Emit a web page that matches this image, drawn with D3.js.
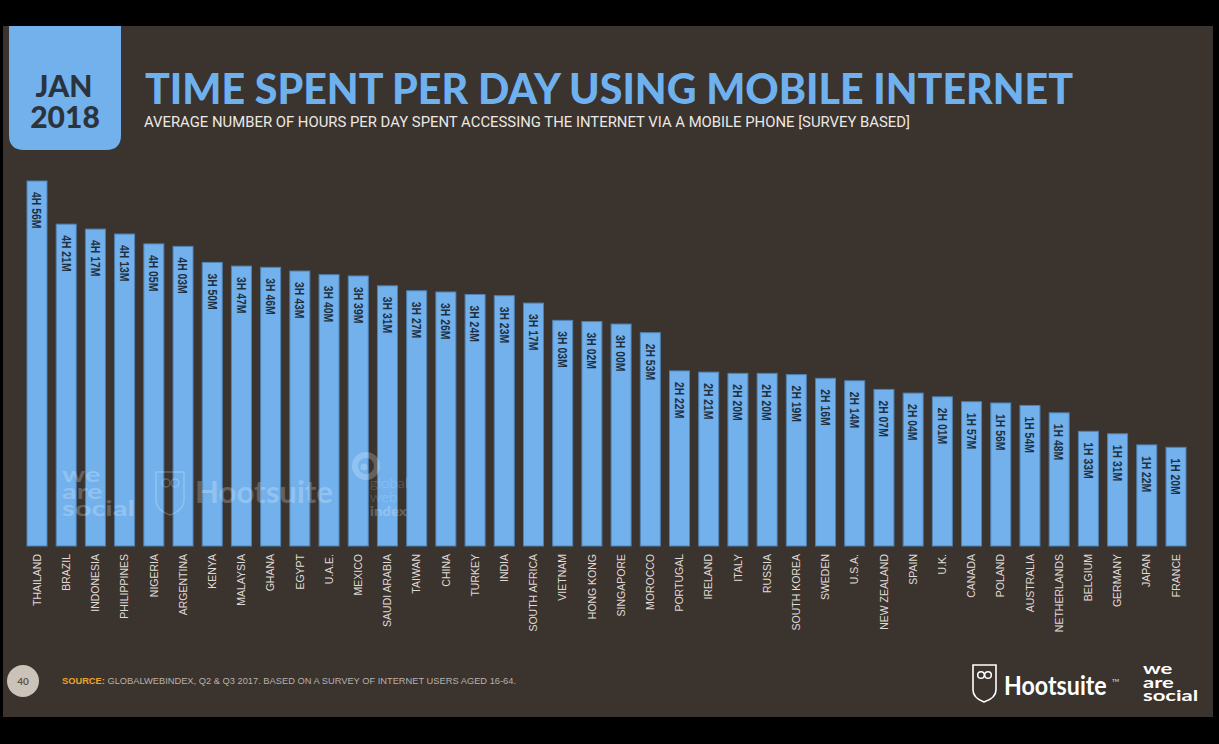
<!DOCTYPE html>
<html>
<head>
<meta charset="utf-8">
<script src="https://cdn.jsdelivr.net/npm/d3@7"></script>
<style>
  html, body { margin: 0; padding: 0; background: #000; }
  svg { display: block; }
</style>
</head>
<body>
<svg id="chart" width="1219" height="744"></svg>
<script>
// Countries, ordered as ranked in the survey
const countries = [
  "THAILAND", "BRAZIL", "INDONESIA", "PHILIPPINES", "NIGERIA", "ARGENTINA",
  "KENYA", "MALAYSIA", "GHANA", "EGYPT", "U.A.E.", "MEXICO", "SAUDI ARABIA",
  "TAIWAN", "CHINA", "TURKEY", "INDIA", "SOUTH AFRICA", "VIETNAM", "HONG KONG",
  "SINGAPORE", "MOROCCO", "PORTUGAL", "IRELAND", "ITALY", "RUSSIA",
  "SOUTH KOREA", "SWEDEN", "U.S.A.", "NEW ZEALAND", "SPAIN", "U.K.", "CANADA",
  "POLAND", "AUSTRALIA", "NETHERLANDS", "BELGIUM", "GERMANY", "JAPAN", "FRANCE"
];

// Average daily mobile internet time, hours and minutes
const hours = [
  4, 4, 4, 4, 4, 4,
  3, 3, 3, 3, 3, 3, 3,
  3, 3, 3, 3, 3, 3, 3,
  3, 2, 2, 2, 2, 2,
  2, 2, 2, 2, 2, 2, 1,
  1, 1, 1, 1, 1, 1, 1
];
const minutes = [
  56, 21, 17, 13, 5, 3,
  50, 47, 46, 43, 40, 39, 31,
  27, 26, 24, 23, 17, 3, 2,
  0, 53, 22, 21, 20, 20,
  19, 16, 14, 7, 4, 1, 57,
  56, 54, 48, 33, 31, 22, 20
];

const titleText = "TIME SPENT PER DAY USING MOBILE INTERNET";
const subtitleText = "AVERAGE NUMBER OF HOURS PER DAY SPENT ACCESSING THE INTERNET VIA A MOBILE PHONE [SURVEY BASED]";
const sourceLabel = "SOURCE:";
const sourceText = " GLOBALWEBINDEX, Q2 & Q3 2017. BASED ON A SURVEY OF INTERNET USERS AGED 16-64.";
const pageNumber = "40";

const data = countries.map((c, i) => ({
  country: c,
  total: hours[i] * 60 + minutes[i],
  label: hours[i] + "H " + String(minutes[i]).padStart(2, "0") + "M"
}));

const svg = d3.select("#chart");

const BG = "#3a332e";
const BLUE = "#72b1ec";
const DARK = "#1f2f3d";

// slide panel
svg.append("rect").attr("x", 3).attr("y", 26).attr("width", 1210).attr("height", 691).attr("fill", BG);

// date tab with rounded bottom corners
const tx0 = 9, tx1 = 121, ty0 = 26, ty1 = 150, r = 15;
svg.append("path")
  .attr("d", `M${tx0},${ty0} H${tx1} V${ty1 - r} Q${tx1},${ty1} ${tx1 - r},${ty1} H${tx0 + r} Q${tx0},${ty1} ${tx0},${ty1 - r} Z`)
  .attr("fill", BLUE);
svg.append("text").attr("x", 64).attr("y", 97).attr("text-anchor", "middle")
  .attr("font-family", "Lato, 'Open Sans', sans-serif").attr("font-weight", 900)
  .attr("font-size", 30).attr("fill", "#2b333c").text("JAN");
svg.append("text").attr("x", 65).attr("y", 128).attr("text-anchor", "middle")
  .attr("font-family", "Lato, 'Open Sans', sans-serif").attr("font-weight", 900)
  .attr("font-size", 30).attr("fill", "#2b333c").text("2018");

// title and subtitle
svg.append("text").attr("x", 145).attr("y", 104)
  .attr("font-family", "Lato, 'Open Sans', sans-serif").attr("font-weight", 900)
  .attr("font-size", 42).attr("fill", "#6fb1ee")
  .attr("textLength", 928).attr("lengthAdjust", "spacingAndGlyphs")
  .text(titleText);
svg.append("text").attr("x", 144).attr("y", 127)
  .attr("font-family", "'Liberation Sans Narrow', 'Roboto', sans-serif")
  .attr("font-size", 15).attr("fill", "#ece8e4")
  .attr("textLength", 766).attr("lengthAdjust", "spacingAndGlyphs")
  .text(subtitleText);

// scales
const x = d3.scaleBand()
  .domain(countries)
  .range([27, 1186])
  .paddingInner(0.315)
  .paddingOuter(0);

const y = d3.scaleLinear()
  .domain([0, d3.max(data, d => d.total)])
  .range([546, 181]);

// bars
const bars = svg.append("g");
bars.selectAll("rect").data(data).join("rect")
  .attr("x", d => x(d.country))
  .attr("y", d => y(d.total))
  .attr("width", x.bandwidth())
  .attr("height", d => y(0) - y(d.total))
  .attr("fill", BLUE)
  .attr("stroke", "#4f82b3")
  .attr("stroke-width", 1);

// value labels inside bars, reading top to bottom, condensed horizontally
bars.selectAll("text.val").data(data).join("text")
  .attr("class", "val")
  .attr("transform", d => `translate(${x(d.country) + x.bandwidth() / 2},${y(d.total) + 11}) rotate(90) scale(0.8,1)`)
  .attr("dy", "0.36em")
  .attr("font-family", "'Liberation Sans', Arial, sans-serif")
  .attr("font-weight", 700)
  .attr("font-size", 13)
  .attr("fill", DARK)
  .text(d => d.label);

// category axis labels, reading bottom to top
const xAxis = d3.axisBottom(x).tickSize(0).tickPadding(0);
const axisG = svg.append("g").attr("transform", "translate(0,554)").call(xAxis);
axisG.select(".domain").remove();
axisG.selectAll("text")
  .attr("transform", "rotate(-90)")
  .attr("x", 0).attr("y", 0).attr("dy", "0.35em")
  .attr("text-anchor", "end")
  .attr("font-family", "'Liberation Sans', Arial, sans-serif")
  .attr("font-size", 10.5)
  .attr("fill", "#e0dbd6");

// stacked multi-line word mark as one text element, widened horizontally
function stackedWords(g, words, x0, y0, lineGap, size, sx, weights) {
  const t = g.append("text")
    .attr("transform", `translate(${x0},${y0}) scale(${sx},1)`)
    .attr("font-size", size);
  words.forEach((w, i) => {
    const s = t.append("tspan").attr("x", 0).attr("dy", i === 0 ? 0 : lineGap).text(w);
    if (weights) s.attr("font-weight", weights[i]);
  });
  return t;
}

// faint brand watermarks over the bars
const wm = svg.append("g").attr("fill", "#ffffff").attr("opacity", 0.22)
  .attr("font-family", "Lato, 'Open Sans', sans-serif").attr("font-weight", 700);
stackedWords(wm, ["we", "are", "social"], 62, 482, 17, 20, 1.45);
wm.append("path")
  .attr("d", "M156,472 H184 V500 Q184,510 170,515 Q156,510 156,500 Z")
  .attr("fill", "none").attr("stroke", "#fff").attr("stroke-width", 1.5);
wm.append("circle").attr("cx", 166).attr("cy", 483).attr("r", 4).attr("fill", "none").attr("stroke", "#fff").attr("stroke-width", 1.5);
wm.append("circle").attr("cx", 175).attr("cy", 483).attr("r", 4).attr("fill", "none").attr("stroke", "#fff").attr("stroke-width", 1.5);
wm.append("text").attr("x", 195).attr("y", 503).attr("font-size", 31)
  .attr("textLength", 138).attr("lengthAdjust", "spacingAndGlyphs").text("Hootsuite");
wm.append("circle").attr("cx", 366).attr("cy", 466).attr("r", 11).attr("fill", "none").attr("stroke", "#fff").attr("stroke-width", 6);
wm.append("circle").attr("cx", 364).attr("cy", 467).attr("r", 3.5);
stackedWords(wm, ["global", "web", "index"], 370, 488, 14, 13, 1.15, [300, 300, 900]);

// footer: page number and source
svg.append("circle").attr("cx", 23).attr("cy", 681).attr("r", 16).attr("fill", "#cbc3ba");
svg.append("text").attr("x", 23).attr("y", 681).attr("dy", "0.35em").attr("text-anchor", "middle")
  .attr("font-family", "Lato, sans-serif").attr("font-weight", 700).attr("font-size", 10)
  .attr("fill", "#5b534c").text(pageNumber);
const src = svg.append("text").attr("x", 62).attr("y", 684)
  .attr("font-family", "'Liberation Sans Narrow', sans-serif").attr("font-size", 8.5)
  .attr("textLength", 454).attr("lengthAdjust", "spacingAndGlyphs");
src.append("tspan").attr("fill", "#f0a22a").attr("font-weight", 700).text(sourceLabel);
src.append("tspan").attr("fill", "#b9b1a9").text(sourceText);

// footer logos
const logo = svg.append("g").attr("fill", "#ffffff")
  .attr("font-family", "Lato, 'Open Sans', sans-serif").attr("font-weight", 700);
logo.append("path")
  .attr("d", "M973,665 H996 V690 Q996,698 984,702 Q973,698 973,690 Z")
  .attr("fill", "none").attr("stroke", "#fff").attr("stroke-width", 1.6);
logo.append("circle").attr("cx", 981).attr("cy", 675).attr("r", 3.3).attr("fill", "none").attr("stroke", "#fff").attr("stroke-width", 1.5);
logo.append("circle").attr("cx", 988).attr("cy", 675).attr("r", 3.3).attr("fill", "none").attr("stroke", "#fff").attr("stroke-width", 1.5);
logo.append("text").attr("transform", "translate(1004,695) scale(0.86,1)").attr("font-size", 27)
  .text("Hootsuite");
logo.append("text").attr("x", 1112).attr("y", 682).attr("font-size", 4.5).attr("font-weight", 400).text("TM");
stackedWords(logo, ["we", "are", "social"], 1143, 674, 13.5, 16, 1.38);
</script>
</body>
</html>
